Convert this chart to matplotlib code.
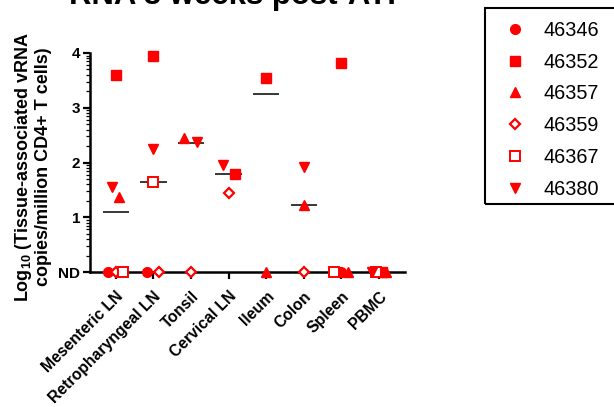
import numpy as np
import matplotlib
matplotlib.use("Agg")
import matplotlib.pyplot as plt
from matplotlib.patches import Rectangle
from matplotlib.lines import Line2D

plt.rcParams['font.family'] = ['Liberation Sans', 'DejaVu Sans']
plt.rcParams['mathtext.fontset'] = 'custom'
plt.rcParams['mathtext.rm'] = 'Liberation Sans:bold'
plt.rcParams['mathtext.it'] = 'Liberation Sans:bold'
plt.rcParams['mathtext.bf'] = 'Liberation Sans:bold'

categories = ["Mesenteric LN", "Retropharyngeal LN", "Tonsil", "Cervical LN",
              "Ileum", "Colon", "Spleen", "PBMC"]
nan = np.nan
ND = 0.0
# log10 vRNA copies / million CD4+ T cells per animal (ND plotted at axis floor)
v46346 = [ND, ND, nan, nan, nan, nan, ND, ND]
v46352 = [3.60, 3.95, nan, 1.79, 3.55, nan, 3.82, ND]
v46357 = [1.37, nan, 2.45, nan, ND, 1.23, ND, ND]
v46359 = [ND, ND, ND, 1.45, nan, ND, nan, nan]
v46367 = [ND, 1.65, nan, nan, nan, nan, ND, ND]
v46380 = [1.56, 2.24, 2.37, 1.96, nan, 1.91, nan, ND]
medians = [1.09, 1.65, 2.36, 1.79, 3.26, 1.23, nan, nan]
yticklabels = ["ND", "1", "2", "3", "4"]

series = [
    ("46346", v46346, dict(marker='o', mfc='red', mec='red')),
    ("46352", v46352, dict(marker='s', mfc='red', mec='red')),
    ("46357", v46357, dict(marker='^', mfc='red', mec='red')),
    ("46359", v46359, dict(marker='D', mfc='white', mec='red', mew=1.6)),
    ("46367", v46367, dict(marker='s', mfc='white', mec='red', mew=1.4)),
    ("46380", v46380, dict(marker='v', mfc='red', mec='red')),
]
sizes = {"46346": 7, "46352": 7, "46357": 7, "46359": 5, "46367": 7.5, "46380": 7}
# horizontal jitter (category units)
offsets = {
    "46346": [-0.21, -0.18, 0, 0, 0, 0, 0, 0],
    "46352": [0, 0, 0, 0.17, 0, 0, 0, 0.08],
    "46357": [0.10, 0, -0.18, 0, 0, 0, 0.18, 0.18],
    "46359": [0, 0.16, 0, 0, 0, 0, 0, 0],
    "46367": [0.20, 0, 0, 0, 0, 0, -0.21, -0.08],
    "46380": [-0.11, 0, 0.15, -0.15, 0, 0, 0, -0.19],
}

W, H = 614, 407
fig = plt.figure(figsize=(W / 100, H / 100), dpi=100)
ax = fig.add_axes([90 / W, 1 - 272 / H, 315 / W, (272 - 53) / H])

x = np.arange(len(categories))
for name, vals, st in series:
    xs = x + np.array(offsets[name])
    ax.plot(xs, vals, linestyle='none', ms=sizes[name], clip_on=False,
            zorder=5, **st)

for i, m in enumerate(medians):
    if not np.isnan(m):
        ax.hlines(m, i - 0.35, i + 0.35, colors='black', lw=1.1, zorder=4)

ax.set_xlim(-0.684, 7.69)
ax.set_ylim(0, 4)
ax.set_yticks([0, 1, 2, 3, 4])
ax.set_yticklabels(yticklabels, fontsize=11, fontweight='bold')
minors = [k + np.log10(m) for k in range(4) for m in range(2, 10)]
ax.set_yticks(minors, minor=True)
ax.set_xticks(x)
ax.set_xticklabels(categories, rotation=45, ha='right', va='top',
                   rotation_mode='anchor', fontsize=11.3, fontweight='bold')
ax.tick_params(axis='y', which='major', length=5, width=1.6, pad=2)
ax.tick_params(axis='y', which='minor', length=3, width=0.9)
ax.tick_params(axis='x', which='major', length=5, width=1.6, pad=7)
for s in ['top', 'right']:
    ax.spines[s].set_visible(False)
for s in ['left', 'bottom']:
    ax.spines[s].set_linewidth(1.8)

ax.set_ylabel("Log$_{10}$ (Tissue-associated vRNA\ncopies/million CD4+ T cells)",
              fontsize=13, fontweight='bold', linespacing=1.05)
ax.yaxis.set_label_coords(-0.122, 0.48)

fig.text(232 / W, 1 - 4 / H, "RNA 3 weeks post-ATI", ha='center', va='baseline',
         fontsize=22.4, fontweight='bold')

handles = [Line2D([], [], linestyle='none', ms=sizes[n], **st) for n, _, st in series]
leg = fig.legend(handles, [n for n, _, _ in series], loc='upper left',
                 bbox_to_anchor=(505 / W, 1 - 21 / H), frameon=False,
                 fontsize=14.3, handlelength=1.0, handletextpad=0.95,
                 labelspacing=0.64, borderpad=0, borderaxespad=0)
fig.patches.append(Rectangle((485 / W, 1 - 204 / H), 140 / W, 196 / H,
                             transform=fig.transFigure, fill=False,
                             edgecolor='black', lw=1.5))

fig.savefig("out.png", dpi=100)
